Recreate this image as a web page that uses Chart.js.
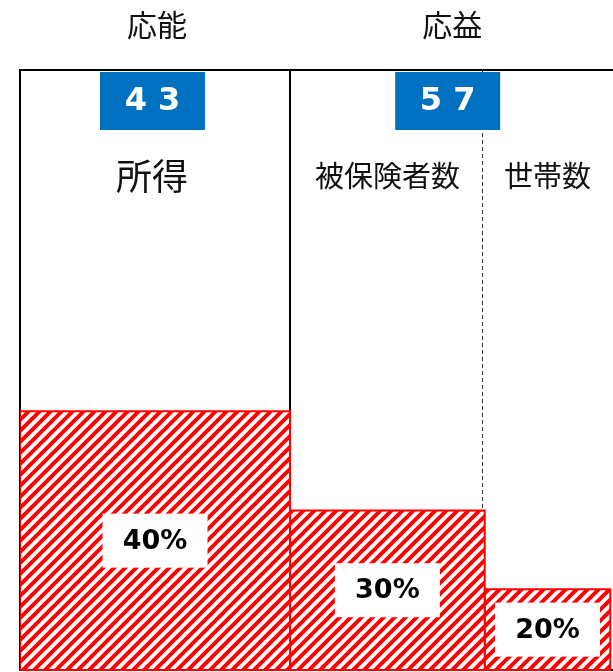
<!DOCTYPE html>
<html>
<head>
<meta charset="utf-8">
<script src="https://cdn.jsdelivr.net/npm/chart.js@4.4.1/dist/chart.umd.min.js"></script>
<style>
    html, body { margin: 0; padding: 0; overflow: hidden; background: #fff; }
    canvas { display: block; }
</style>
</head>
<body>
<canvas id="graficoRateio" width="660" height="672"></canvas>
<script>
// --- Dados ---
const grupos = ['応能', '応益'];
const partesGrupo = [43, 57];
const categorias = ['所得', '被保険者数', '世帯数'];
const taxas = [40, 30, 20];
const larguras = [43, 31, 20];   // largura de cada barra (mesma unidade das partes)
const grupoDe = [0, 1, 1];

const fonteJP = "'Noto Sans CJK JP', 'Noto Sans', sans-serif";
const fonteNum = "'DejaVu Sans', 'Noto Sans', sans-serif";

// escala de potência (o desenho original não é linear)
class PowerScale extends Chart.LinearScale {
    static id = 'power';
    static defaults = Chart.LinearScale.defaults;
    getPixelForValue(value) {
        const t = Math.max(0, (value - this.min) / (this.max - this.min));
        return this.getPixelForDecimal(Math.pow(t, this.options.exponent || 1));
    }
    getValueForPixel(pixel) {
        const d = Math.max(0, this.getDecimalForPixel(pixel));
        return this.min + Math.pow(d, 1 / (this.options.exponent || 1)) * (this.max - this.min);
    }
}
Chart.register(PowerScale);

// hachura vermelha
function hachura() {
    const s = 11;
    const c = document.createElement('canvas');
    c.width = s; c.height = s;
    const g = c.getContext('2d');
    g.fillStyle = '#fff';
    g.fillRect(0, 0, s, s);
    g.strokeStyle = '#ff0000';
    g.lineWidth = 4;
    g.beginPath();
    g.moveTo(-1, s + 1); g.lineTo(s + 1, -1);
    g.moveTo(-2, 2); g.lineTo(2, -2);
    g.moveTo(s - 2, s + 2); g.lineTo(s + 2, s - 2);
    g.stroke();
    return g.createPattern(c, 'repeat');
}
const padrao = hachura();

// inícios das barras
const inicios = [];
larguras.reduce((acc, w) => { inicios.push(acc); return acc + w; }, 0);

const datasets = categorias.map((nome, i) => {
    const x0 = inicios[i], x1 = inicios[i] + larguras[i], v = taxas[i];
    return {
        label: nome,
        data: [{x: x0, y: 0}, {x: x0, y: v}, {x: x1, y: v}, {x: x1, y: 0}],
        borderColor: '#ff0000',
        borderWidth: 2,
        borderJoinStyle: 'miter',
        backgroundColor: padrao,
        fill: 'origin',
        pointRadius: 0,
        tension: 0
    };
});

function spanGrupo(g) {
    let a = Infinity, b = -Infinity;
    categorias.forEach((_, i) => {
        if (grupoDe[i] === g) {
            a = Math.min(a, inicios[i]);
            b = Math.max(b, inicios[i] + larguras[i]);
        }
    });
    return [a, b];
}

const quadro = {
    id: 'quadro',
    beforeDatasetsDraw(chart) {
        const {ctx, chartArea: a, scales: {x}} = chart;
        ctx.save();
        ctx.strokeStyle = '#000';
        ctx.lineWidth = 2;
        ctx.strokeRect(a.left, a.top, a.right - a.left, a.bottom - a.top);
        for (let i = 0; i < categorias.length - 1; i++) {
            const px = Math.round(x.getPixelForValue(inicios[i + 1]));
            const mesmo = grupoDe[i] === grupoDe[i + 1];
            ctx.beginPath();
            ctx.setLineDash(mesmo ? [4, 3] : []);
            ctx.lineWidth = mesmo ? 1 : 2;
            ctx.strokeStyle = mesmo ? '#333' : '#000';
            const xx = mesmo ? px - 2.5 : px;
            ctx.moveTo(xx, a.top);
            ctx.lineTo(xx, a.bottom);
            ctx.stroke();
        }
        ctx.restore();
    },
    afterDatasetsDraw(chart) {
        const {ctx, chartArea: a, scales: {x, y}} = chart;
        ctx.save();

        // linha de base
        const fim = inicios[inicios.length - 1] + larguras[larguras.length - 1];
        ctx.strokeStyle = '#ff0000';
        ctx.lineWidth = 2;
        ctx.beginPath();
        ctx.moveTo(x.getPixelForValue(0), y.getPixelForValue(0));
        ctx.lineTo(x.getPixelForValue(fim) + 1, y.getPixelForValue(0));
        ctx.stroke();

        ctx.textAlign = 'center';
        ctx.textBaseline = 'middle';

        // grupos: título e caixa azul
        grupos.forEach((nome, g) => {
            const [s0, s1] = spanGrupo(g);
            const cx = (x.getPixelForValue(s0) + x.getPixelForValue(s1)) / 2;
            ctx.fillStyle = '#111';
            ctx.font = '30px ' + fonteJP;
            ctx.fillText(nome, cx + 2, 25);
            ctx.fillStyle = '#0070c0';
            ctx.fillRect(cx - 55, a.top + 2, 105, 58);
            ctx.fillStyle = '#fff';
            ctx.font = 'bold 32px ' + fonteNum;
            ctx.fillText(String(partesGrupo[g]).split('').join(' '), cx - 2.5, a.top + 32);
        });

        // categorias e valores
        categorias.forEach((nome, i) => {
            const cx = (x.getPixelForValue(inicios[i]) + x.getPixelForValue(inicios[i] + larguras[i])) / 2;
            ctx.fillStyle = '#111';
            ctx.font = (i === 0 ? '36px ' : '29px ') + fonteJP;
            ctx.fillText(nome, cx - (i === 0 ? 3 : 0), 176);

            const cy = (y.getPixelForValue(taxas[i]) + y.getPixelForValue(0)) / 2;
            ctx.fillStyle = '#fff';
            ctx.fillRect(cx - 52.5, cy - 27, 105, 54);
            ctx.fillStyle = '#000';
            ctx.font = 'bold 27px ' + fonteNum;
            ctx.fillText(taxas[i] + '%', cx, cy + 1);
        });
        ctx.restore();
    }
};

new Chart(document.getElementById('graficoRateio'), {
    type: 'line',
    data: { datasets: datasets },
    options: {
        responsive: false,
        animation: false,
        layout: { padding: { left: 20, top: 70, right: 12, bottom: 2 } },
        scales: {
            x: { type: 'linear', min: 0, max: 100, display: false },
            y: { type: 'power', min: 0, max: 66, exponent: 1.68, display: false }
        },
        plugins: {
            legend: { display: false },
            tooltip: { enabled: false }
        }
    },
    plugins: [quadro]
});
</script>
</body>
</html>
